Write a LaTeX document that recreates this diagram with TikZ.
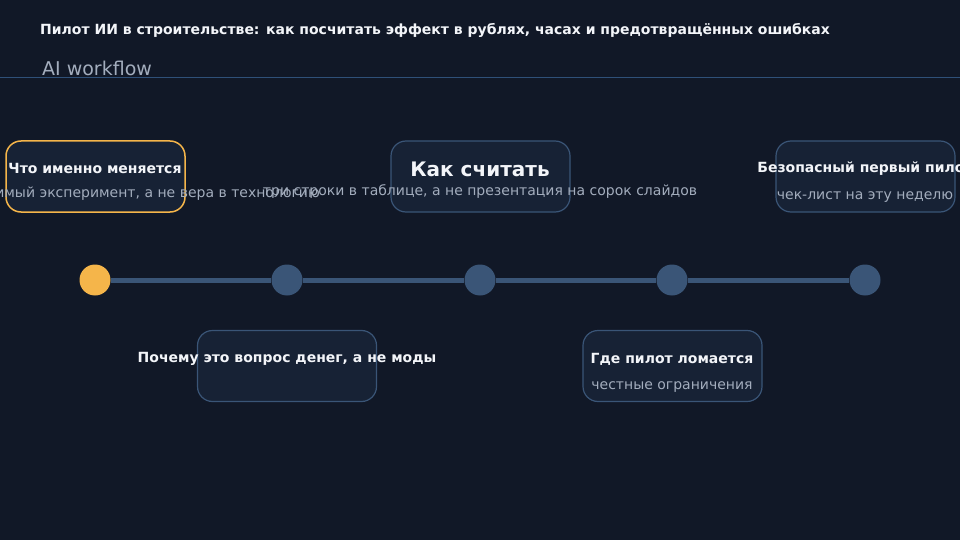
\documentclass[tikz,border=0pt]{standalone}
\usepackage{fontspec}
\setmainfont{DejaVu Sans}
\definecolor{bgnavy}{HTML}{111827}
\definecolor{cardfill}{HTML}{172235}
\definecolor{cardline}{HTML}{3A5577}
\definecolor{accent}{HTML}{F5B54A}
\definecolor{mutedtext}{HTML}{A3ADBD}
\definecolor{headtext}{HTML}{F3F5F9}
\definecolor{ruleline}{HTML}{2F5078}
\tikzset{
  card/.style={draw=cardline, line width=1.2pt, fill=cardfill, rounded corners=15pt,
    minimum width=179pt, minimum height=71pt, inner sep=0pt},
  cardtitle/.style={anchor=base, text=headtext, font=\fontsize{14}{16}\selectfont\bfseries, inner sep=0pt},
  cardsub/.style={anchor=base, text=mutedtext, font=\fontsize{14}{16}\selectfont, inner sep=0pt},
  stepdot/.style={circle, fill=cardline, minimum size=31pt, inner sep=0pt},
}
\begin{document}
\begin{tikzpicture}[x=1pt,y=-1pt]
            \useasboundingbox[fill=bgnavy] (0,0) rectangle (960,540);
            % header
            \node[anchor=base west, text=headtext, font=\fontsize{14}{16}\selectfont\bfseries, inner sep=0pt] (title) at (40,35) {Пилот ИИ в строительстве: как посчитать эффект в рублях, часах и предотвращённых ошибках};
            \node[anchor=base west, text=mutedtext, font=\fontsize{19}{22}\selectfont, inner sep=0pt] (brand) at (42,76) {AI workflow};
            \coordinate (ruleL) at (0,78);
            \coordinate (ruleR) at (960,78);
            \draw[ruleline, line width=1pt] (ruleL) -- (ruleR);
            % timeline
            \node[stepdot, fill=accent] (d1) at (95,280) {};
            \node[stepdot] (d2) at (287,280) {};
            \node[stepdot] (d3) at (480,280) {};
            \node[stepdot] (d4) at (672,280) {};
            \node[stepdot] (d5) at (865,280) {};
            \foreach \a/\b in {d1/d2,d2/d3,d3/d4,d4/d5}
              \draw[cardline, line width=5pt] (\a) -- (\b);
            % cards
            \node[card, draw=accent, line width=1.5pt] (c1) at (95.5,176.5) {};
            \node[card] (c2) at (287,366) {};
            \node[card] (c3) at (480.5,176.5) {};
            \node[card] (c4) at (672.5,366) {};
            \node[card] (c5) at (865.5,176.5) {};
            % texts
            \node[cardtitle] (t1) at (95,174) {Что именно меняется};
            \node[cardsub, anchor=base east] (s1) at (320,197) {имый эксперимент, а не вера в технологию};
            \node[cardtitle] (t2) at (287,362) {Почему это вопрос денег, а не моды};
            \node[cardtitle, font=\fontsize{20}{24}\selectfont\bfseries] (t3) at (480,177) {Как считать};
            \node[cardsub] (s3) at (480,196) {три строки в таблице, а не презентация на сорок слайдов};
            \node[cardtitle] (t4) at (672,363) {Где пилот ломается};
            \node[cardsub] (s4) at (672,389) {честные ограничения};
            \node[cardtitle] (t5) at (865,172) {Безопасный первый пилот};
            \node[cardsub] (s5) at (865,199) {чек-лист на эту неделю};
        \end{tikzpicture}
\end{document}
